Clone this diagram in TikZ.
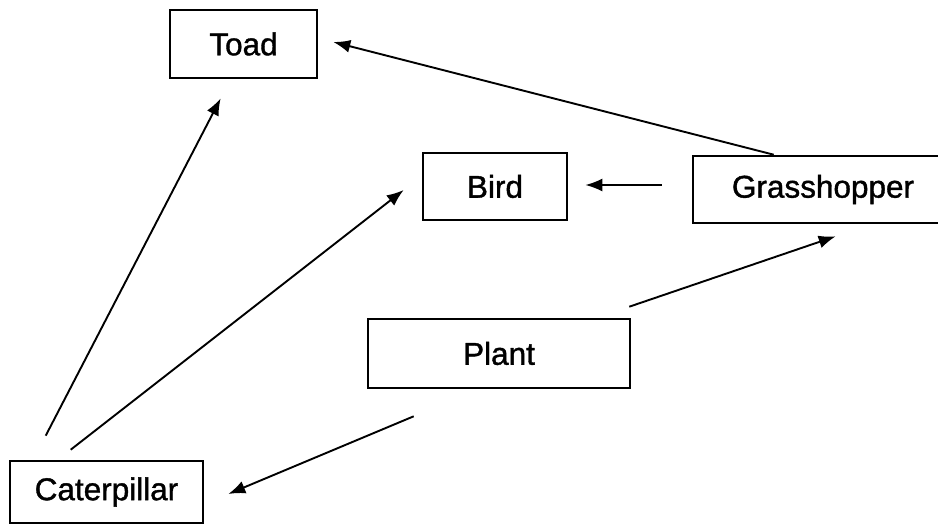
\documentclass[tikz,border=0pt]{standalone}
\usepackage{fontspec}
\setmainfont{Liberation Sans}
\newfontfamily\boxfont{Liberation Sans}[FakeBold=1.2]
\usetikzlibrary{arrows.meta}

\begin{document}
\begin{tikzpicture}[
    x=1pt, y=-1pt,
    box/.style={draw, line width=2.6pt, minimum height=67pt,
                inner sep=4pt, font=\boxfont\fontsize{31.5}{36}\selectfont},
    arr/.style={-{Latex[length=17pt, width=13pt]}, line width=1.9pt},
  ]
    \useasboundingbox (0,0) rectangle (938,527);
    \clip (0,0) rectangle (938,527);

    \node[box, minimum width=147pt, minimum height=68pt] (toad) at (243.5,44) {Toad};
    \node[box, minimum width=144pt] (bird) at (495,186.5) {Bird};
    \node[box, minimum width=260pt] (grass) at (823,189.5) {Grasshopper};
    \node[box, minimum width=262pt, minimum height=69pt] (plant) at (499,353.5) {Plant};
    \node[box, minimum width=193pt, minimum height=62pt] (cat) at (106.5,492) {Caterpillar};

    % feeding links
    \draw[arr] ([shift={(82,0)}]grass.north west) -- ([shift={(15,-2)}]toad.east);
    \draw[arr] ([shift={(-30,-4.5)}]grass.west) -- ([shift={(17,-1.5)}]bird.east);
    \draw[arr] ([shift={(-2,-11)}]plant.north east) -- ([shift={(144,12)}]grass.south west);
    \draw[arr] ([shift={(47,27)}]plant.south west) -- ([shift={(24,2)}]cat.east);
    \draw[arr] ([shift={(37,-24)}]cat.north west) -- ([shift={(52,19)}]toad.south west);
    \draw[arr] ([shift={(62,-10)}]cat.north west) -- ([shift={(-18,3.5)}]bird.west);
  \end{tikzpicture}
\end{document}
